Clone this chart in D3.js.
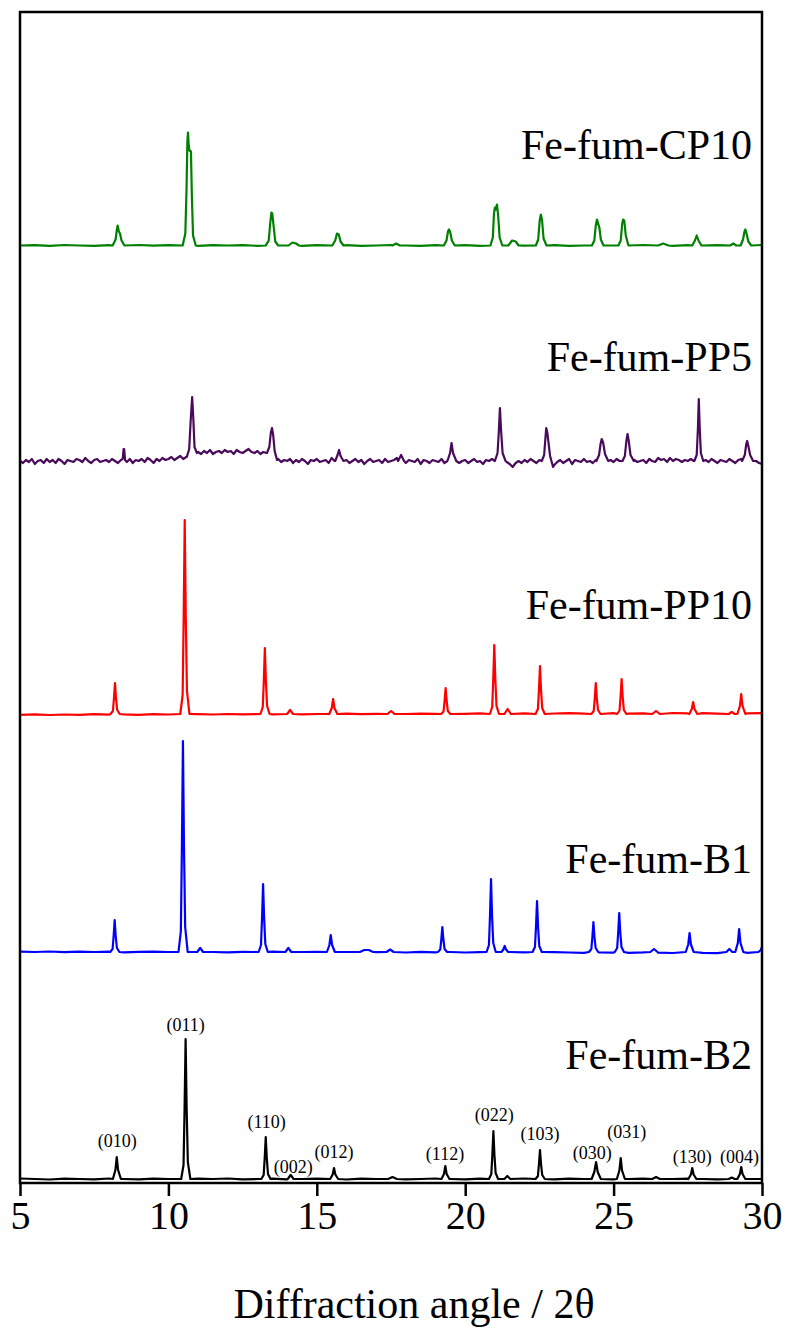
<!DOCTYPE html>
<html>
<head>
<meta charset="utf-8">
<script src="https://cdn.jsdelivr.net/npm/d3@7/dist/d3.min.js"></script>
<style>
  html, body { margin: 0; padding: 0; background: #fff; }
  svg { display: block; }
  text { font-family: "Liberation Serif", "Times New Roman", serif; }
</style>
</head>
<body>
<svg id="chart" width="788" height="1334"></svg>
<script>
// ---- Data -----------------------------------------------------------------
// 2θ range (degrees) and intensity range (arbitrary units, stacked patterns)
const angleDomain = [5, 30];
const intensityDomain = [0, 1171];
const angleTicks = [5, 10, 15, 20, 25, 30];

// Sample names, stacking offsets (a.u.) and heights of the name labels (a.u.)
const sampleNames   = ["Fe-fum-B2", "Fe-fum-B1", "Fe-fum-PP10", "Fe-fum-PP5", "Fe-fum-CP10"];
const sampleOffsets = [4, 231, 469, 722, 937.5];
const nameLevels    = [114, 310, 564, 812, 1024];

// Background readings, sampled on a regular 2θ grid starting at 5°
const bgStepSmooth = 0.5;
const bgStepNoisy  = 0.1;

const bgB2 = [
  0.5,0,-0.5,0.3,0,-0.4,0.5,0,-0.3,0.4,
  0,-0.5,0.3,0,0.5,-0.3,0,0.4,-0.4,0,
  0.3,0,-0.5,0.4,0,0.3,-0.3,0,0.5,0,
  -0.4,0.3,0,-0.3,0.5,0,-0.4,0.3,0,0.5,
  -0.3,0,0.4,-0.4,0,0.3,0,-0.3,0.4,0,
  0
];
const bgB1 = [
  0.3,0,0.5,-0.2,0.4,0,0.3,-0.3,0.2,0.4,
  0,-0.3,0.3,0,-0.4,0.2,0,0.3,-0.3,0,
  0.2,-0.4,0,0.3,-0.2,0,-0.5,0.1,-0.3,0,
  -0.5,-0.2,-0.6,0,-0.4,-0.7,-0.2,-0.5,-0.8,-0.3,
  -0.6,-0.9,-0.4,-0.7,-1,-0.5,-0.8,-1.1,-0.6,-0.9,
  -1
];
const bgPP10 = [
  -0.8,-0.3,-1,-0.5,-0.9,-0.2,-0.7,-0.4,-0.8,-0.1,
  -0.5,-0.6,-0.2,-0.5,0,-0.4,-0.1,-0.3,0.2,-0.3,
  0,-0.2,0.3,-0.1,0.2,0.4,0,0.3,0.1,0.5,
  0.2,0.6,0.1,0.4,0.7,0.2,0.5,0.8,0.3,0.6,
  0.9,0.4,0.7,0.5,1,0.6,0.8,0.4,0.9,0.7,
  0.8
];
const bgPP5 = [
  0,-2,1,-1,2,-3,0,1,-2,2,
  -1,1,-2,2,0,-3,1,0,-1,2,
  1,-1,3,0,-2,1,2,-1,0,1,
  -1,2,0,-2,1,0,-1,2,-2,1,
  0,2,-1,3,1,-2,2,0,3,1,
  2,4,1,3,5,2,4,6,8,9,
  9,7,10,8,11,7,9,10,8,11,
  9,10,7,11,9,8,10,12,9,8,
  10,7,9,8,8,8,4,2,-1,1,
  0,2,-2,1,-1,2,0,-3,1,0,
  2,-1,0,1,-2,3,0,0,0,-1,
  1,-2,0,2,-1,1,-3,0,2,-1,
  0,1,-2,2,-1,0,1,3,0,0,
  -2,1,0,-1,2,-3,1,0,-2,1,
  0,-1,2,-2,1,0,0,1,-2,0,
  1,-2,0,2,-1,0,-3,1,0,2,
  0,0,0,0,-1,-3,-6,-2,0,-2,
  1,-1,2,0,-2,1,0,0,0,0,
  -4,-1,1,-2,0,2,-3,1,0,-1,
  2,-1,0,-2,1,0,0,0,0,1,
  -1,2,0,-2,0,0,0,1,-1,0,
  1,-2,2,0,-1,3,1,2,-1,3,
  0,2,1,-1,1,0,2,0,0,0,
  0,1,-1,2,0,-2,1,0,-1,2,
  0,-2,1,2,0,0,0,0,0,-2,
  -3
];
const bgCP10 = [
  0,0.4,-0.3,0.5,0,-0.4,0.3,0,0.5,-0.2,
  0.3,0,-0.4,0.4,0,0.3,-0.3,0.5,0,-0.4,
  0.3,0,0.4,-0.3,0,0.5,0,-0.4,0.3,0,
  0.4,-0.3,0,0.5,-0.2,0,0.3,-0.4,0,0.4,
  0,-0.3,0.5,0,-0.4,0.3,0,0.4,-0.3,0,
  0.5
];

// Reflection profiles [2θ, intensity] read across each peak
const peaksB2 = [
  [[8.13,0],[8.215,9],[8.26,22],[8.305,9],[8.40,0]],
  [[10.43,0],[10.51,14],[10.545,70],[10.58,140],[10.615,70],[10.655,17],[10.74,0]],
  [[13.13,0],[13.21,4],[13.245,21],[13.28,42],[13.315,21],[13.355,5],[13.44,0]],
  [[14.02,0],[14.12,4],[14.22,0]],
  [[15.45,0],[15.535,4.5],[15.58,11],[15.625,4.5],[15.72,0]],
  [[17.4,0],[17.55,2],[17.7,0]],
  [[19.2,0],[19.285,5],[19.33,13],[19.375,5],[19.47,0]],
  [[20.80,0],[20.88,5],[20.915,24],[20.95,48],[20.985,24],[21.025,6],[21.11,0]],
  [[21.32,0],[21.42,3],[21.52,0]],
  [[22.37,0],[22.45,3],[22.485,15],[22.52,29],[22.555,15],[22.595,4],[22.68,0]],
  [[24.26,0],[24.35,7],[24.41,17],[24.465,7],[24.57,0]],
  [[25.11,0],[25.195,8.5],[25.24,21],[25.285,8.5],[25.38,0]],
  [[26.3,0],[26.43,2],[26.56,0]],
  [[27.52,0],[27.605,4.5],[27.65,11],[27.695,4.5],[27.79,0]],
  [[28.88,0],[28.98,1.5],[29.08,0]],
  [[29.17,0],[29.255,5],[29.3,12],[29.345,5],[29.44,0]]
];
const peaksB1 = [
  [[8.04,0],[8.12,3],[8.155,16],[8.19,32],[8.225,16],[8.265,4],[8.35,0]],
  [[10.34,0],[10.42,21],[10.455,105],[10.49,211],[10.525,105],[10.565,25],[10.65,0]],
  [[10.97,0],[11.07,4],[11.17,0]],
  [[13.04,0],[13.12,7],[13.155,34],[13.19,68],[13.225,34],[13.265,8],[13.35,0]],
  [[13.94,0],[14.04,4],[14.14,0]],
  [[15.34,0],[15.425,7],[15.47,17],[15.515,7],[15.61,0]],
  [[16.45,0],[16.6,2],[16.75,2],[16.9,0]],
  [[17.35,0],[17.47,2.5],[17.59,0]],
  [[19.08,0],[19.16,2.5],[19.195,12.5],[19.23,25],[19.265,12.5],[19.305,3],[19.39,0]],
  [[20.72,0],[20.80,7],[20.835,36],[20.87,73],[20.905,36],[20.945,9],[21.03,0]],
  [[21.22,0],[21.285,2.5],[21.33,6],[21.375,2.5],[21.45,0]],
  [[22.27,0],[22.35,5],[22.385,25],[22.42,51],[22.455,25],[22.495,6],[22.58,0]],
  [[24.17,0],[24.25,3],[24.285,15],[24.32,30],[24.355,15],[24.395,4],[24.48,0]],
  [[25.04,0],[25.12,4],[25.155,19.5],[25.19,39],[25.225,19.5],[25.265,5],[25.35,0]],
  [[26.24,0],[26.36,3],[26.48,0]],
  [[27.43,0],[27.515,7.5],[27.56,19],[27.605,7.5],[27.70,0]],
  [[28.8,0],[28.9,3],[29.0,0]],
  [[29.10,0],[29.185,9],[29.23,23],[29.275,9],[29.37,0]],
  [[29.88,0],[29.96,2],[30,5]]
];
const peaksPP10 = [
  [[8.05,0],[8.13,3],[8.165,15.5],[8.2,31],[8.235,15.5],[8.275,4],[8.36,0]],
  [[10.40,0],[10.48,19],[10.515,97],[10.55,194],[10.585,97],[10.625,23],[10.71,0]],
  [[13.10,0],[13.18,7],[13.215,33],[13.25,66],[13.285,33],[13.325,8],[13.41,0]],
  [[14.0,0],[14.1,4],[14.2,0]],
  [[15.42,0],[15.505,6],[15.55,15],[15.595,6],[15.69,0]],
  [[17.38,0],[17.5,3],[17.62,0]],
  [[19.19,0],[19.27,2.6],[19.305,13],[19.34,26],[19.375,13],[19.415,3],[19.5,0]],
  [[20.83,0],[20.91,7],[20.945,34.5],[20.98,69],[21.015,34.5],[21.055,8],[21.14,0]],
  [[21.32,0],[21.43,5],[21.54,0]],
  [[22.37,0],[22.45,5],[22.485,24],[22.52,48],[22.555,24],[22.595,6],[22.68,0]],
  [[24.25,0],[24.33,3],[24.365,15.5],[24.4,31],[24.435,15.5],[24.475,4],[24.56,0]],
  [[25.12,0],[25.20,3.5],[25.235,17.5],[25.27,35],[25.305,17.5],[25.345,4],[25.43,0]],
  [[26.3,0],[26.43,3],[26.56,0]],
  [[27.55,0],[27.635,5],[27.68,12],[27.725,5],[27.82,0]],
  [[28.88,0],[28.98,2],[29.08,0]],
  [[29.17,0],[29.255,8],[29.3,20],[29.345,8],[29.44,0]]
];
const peaksPP5 = [
  [[8.46,2],[8.49,12],[8.51,12],[8.54,1]],
  [[10.62,4],[10.70,12],[10.75,40],[10.80,64],[10.84,42],[10.88,14],[10.96,8]],
  [[13.32,8],[13.40,14],[13.45,28],[13.49,33],[13.53,26],[13.58,10],[13.66,1]],
  [[15.62,0],[15.70,6],[15.75,11],[15.80,5],[15.90,0]],
  [[17.74,0],[17.84,6],[17.94,0]],
  [[19.40,0],[19.49,8],[19.54,18],[19.59,8],[19.70,0]],
  [[21.00,0],[21.09,8],[21.13,28],[21.17,53],[21.21,30],[21.26,8],[21.36,0]],
  [[22.58,0],[22.66,6],[22.70,22],[22.73,33],[22.77,28],[22.80,20],[22.86,5],[22.96,-6]],
  [[24.42,0],[24.51,6],[24.56,17],[24.6,22],[24.65,18],[24.71,7],[24.82,0]],
  [[25.30,0],[25.38,5],[25.43,20],[25.47,27],[25.51,20],[25.57,6],[25.68,0]],
  [[27.72,0],[27.80,6],[27.84,32],[27.87,62],[27.90,34],[27.94,8],[28.02,0]],
  [[29.33,0],[29.42,6],[29.47,17],[29.5,20],[29.54,15],[29.60,6],[29.70,0]]
];
const peaksCP10 = [
  [[8.12,0],[8.22,6],[8.26,15],[8.29,20],[8.33,14],[8.37,12],[8.42,5],[8.52,0]],
  [[10.48,0],[10.57,12],[10.61,55],[10.64,105],[10.66,113],[10.685,100],[10.71,95],[10.76,94],[10.79,50],[10.83,10],[10.92,0]],
  [[13.28,0],[13.38,5],[13.43,22],[13.47,33],[13.50,32],[13.55,18],[13.60,4],[13.70,0]],
  [[14.05,0],[14.18,3],[14.3,2],[14.4,0]],
  [[15.52,0],[15.62,5],[15.68,12],[15.74,11],[15.8,4],[15.9,0]],
  [[17.55,0],[17.67,2],[17.8,0]],
  [[19.28,0],[19.37,5],[19.42,14],[19.45,16],[19.49,14],[19.55,5],[19.65,0]],
  [[20.85,0],[20.93,8],[20.97,32],[21.0,38],[21.03,36],[21.07,41],[21.11,30],[21.16,8],[21.25,0]],
  [[21.45,0],[21.58,5],[21.7,4],[21.8,0]],
  [[22.38,0],[22.46,6],[22.51,25],[22.55,31],[22.59,25],[22.64,7],[22.74,0]],
  [[24.27,0],[24.35,5],[24.40,20],[24.44,26],[24.48,22],[24.52,18],[24.57,6],[24.66,0]],
  [[25.16,0],[25.24,5],[25.29,22],[25.32,26],[25.36,25],[25.41,10],[25.5,0]],
  [[26.5,0],[26.67,2],[26.85,0]],
  [[27.65,0],[27.74,5],[27.8,10],[27.86,5],[27.96,0]],
  [[28.93,0],[29.03,2],[29.13,0]],
  [[29.28,0],[29.36,6],[29.41,14],[29.44,16],[29.48,12],[29.54,4],[29.64,0]]
];

// Miller indices of the reference pattern: label text, 2θ and label height (a.u.)
const hklLabels = ["(010)", "(011)", "(110)", "(002)", "(012)", "(112)", "(022)", "(103)", "(030)", "(031)", "(130)", "(004)"];
const hklAngles = [8.28, 10.58, 13.31, 14.21, 15.58, 19.32, 20.98, 22.52, 24.28, 25.44, 27.65, 29.24];
const hklLevels = [32, 148, 51, 6, 21, 19, 58, 39, 20, 41, 16, 16];

// ---- Styling ---------------------------------------------------------------
const sampleColors = ["#000000", "#0000ff", "#ff0000", "#4a0a5c", "#008000"];
const serif = "'Liberation Serif', 'Times New Roman', serif";

// ---- Layout ----------------------------------------------------------------
const plot = { left: 20, right: 762, top: 12, bottom: 1183 };

const svg = d3.select("#chart");
const x = d3.scaleLinear().domain(angleDomain).range([plot.left, plot.right]);
const y = d3.scaleLinear().domain(intensityDomain).range([plot.bottom, plot.top]);

svg.append("defs").append("clipPath").attr("id", "plot-clip")
  .append("rect")
  .attr("x", plot.left).attr("y", plot.top)
  .attr("width", plot.right - plot.left).attr("height", plot.bottom - plot.top);

// Combine background readings with the peak profiles into one sorted trace
function buildTrace(bg, step, peaks) {
  const pts = peaks.flat().map(p => [p[0], p[1]]);
  const spans = peaks.map(p => [p[0][0], p[p.length - 1][0]]);
  bg.forEach((v, i) => {
    const a = Math.round((angleDomain[0] + i * step) * 1000) / 1000;
    if (!spans.some(s => a >= s[0] - 1e-6 && a <= s[1] + 1e-6)) pts.push([a, v]);
  });
  pts.sort((p, q) => p[0] - q[0]);
  return pts;
}

const traces = [
  buildTrace(bgB2, bgStepSmooth, peaksB2),
  buildTrace(bgB1, bgStepSmooth, peaksB1),
  buildTrace(bgPP10, bgStepSmooth, peaksPP10),
  buildTrace(bgPP5, bgStepNoisy, peaksPP5),
  buildTrace(bgCP10, bgStepSmooth, peaksCP10)
];

const tracesG = svg.append("g").attr("clip-path", "url(#plot-clip)");
traces.forEach((pts, k) => {
  const line = d3.line()
    .x(d => x(d[0]))
    .y(d => y(d[1] + sampleOffsets[k]))
    .curve(d3.curveLinear);
  tracesG.append("path")
    .datum(pts)
    .attr("d", line)
    .attr("fill", "none")
    .attr("stroke", sampleColors[k])
    .attr("stroke-width", 2.2)
    .attr("stroke-linejoin", "round");
});

// Sample names, right-aligned above each pattern
svg.append("g").selectAll("text")
  .data(sampleNames)
  .join("text")
  .attr("x", x(angleDomain[1]) - 10)
  .attr("y", (d, i) => y(nameLevels[i]))
  .attr("text-anchor", "end")
  .style("font-family", serif)
  .attr("font-size", 42)
  .attr("fill", "#000")
  .text(d => d);

// Reflection indices over the bottom pattern
svg.append("g").selectAll("text")
  .data(hklLabels)
  .join("text")
  .attr("x", (d, i) => x(hklAngles[i]))
  .attr("y", (d, i) => y(hklLevels[i] + sampleOffsets[0]))
  .attr("text-anchor", "middle")
  .style("font-family", serif)
  .attr("font-size", 18)
  .attr("fill", "#000")
  .text(d => d);

// Bottom axis
const axis = d3.axisBottom(x).tickValues(angleTicks).tickSize(13).tickPadding(5).tickFormat(d3.format("d"));
const axisG = svg.append("g")
  .attr("transform", `translate(0,${plot.bottom})`)
  .call(axis);
axisG.attr("font-family", null).style("font-family", serif);
axisG.select(".domain").remove();
axisG.selectAll(".tick line").attr("stroke", "#000").attr("stroke-width", 2.5);
axisG.selectAll(".tick text")
  .style("font-family", serif)
  .style("font-size", "40px")
  .attr("fill", "#000");

// Frame
svg.append("rect")
  .attr("x", plot.left).attr("y", plot.top)
  .attr("width", plot.right - plot.left).attr("height", plot.bottom - plot.top)
  .attr("fill", "none")
  .attr("stroke", "#000")
  .attr("stroke-width", 2.5);

// Axis title
svg.append("text")
  .attr("x", 414)
  .attr("y", 1318)
  .attr("text-anchor", "middle")
  .style("font-family", serif)
  .attr("font-size", 42)
  .attr("fill", "#000")
  .text("Diffraction angle / 2θ");
</script>
</body>
</html>
